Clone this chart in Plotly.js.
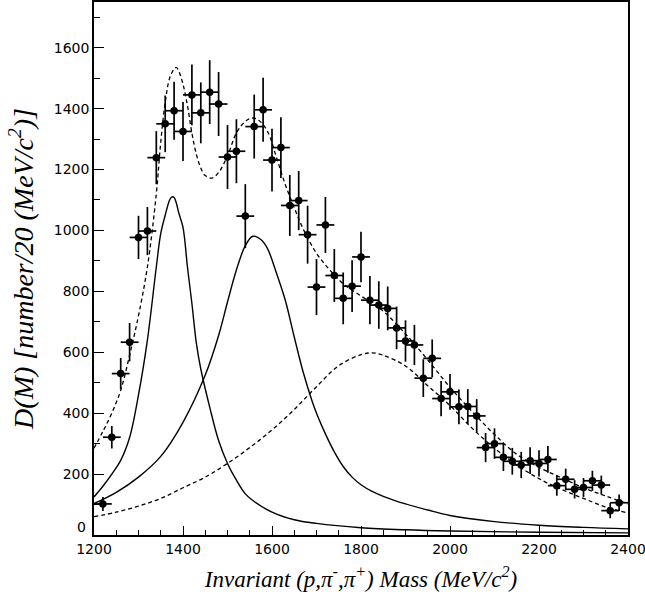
<!DOCTYPE html>
<html>
<head>
<meta charset="utf-8">
<script src="https://cdn.plot.ly/plotly-3.0.1.min.js"></script>
<style>
  html, body { margin: 0; padding: 0; background: #fff; }
  #chart { width: 645px; height: 603px; }
</style>
</head>
<body>
<div id="chart"></div>
<script>
// Measured data: bin centres (MeV/c^2), counts and errors
const mass = [1220,1240,1260,1280,1300,1320,1340,1360,1380,1400,1420,1440,1460,1480,1500,1520,1540,1560,1580,1600,1620,1640,1660,1680,1700,1720,1740,1760,1780,1800,1820,1840,1860,1880,1900,1920,1940,1960,1980,2000,2020,2040,2060,2080,2100,2120,2140,2160,2180,2200,2220,2240,2260,2280,2300,2320,2340,2360,2380];
const counts = [102,321,530,633,977,998,1239,1350,1393,1325,1445,1386,1454,1415,1241,1260,1047,1341,1396,1231,1272,1082,1098,986,814,1018,852,777,817,913,771,755,744,680,637,624,515,580,448,470,421,422,391,287,300,255,242,230,244,235,248,162,183,150,156,178,164,80,106];
const errY = [23,37,51,63,71,79,87,93,95,97,100,100,105,105,105,105,105,105,105,103,100,100,97,95,92,92,87,85,85,83,79,78,72,70,68,66,62,62,58,59,57,57,55,48,50,45,44,43,44,43,44,33,35,30,31,33,31,25,27];
const errX = [20,20,20,20,20,20,20,20,20,20,20,20,20,20,20,20,20,20,20,20,20,20,20,20,20,20,20,20,20,20,20,20,20,20,20,20,20,20,20,20,20,20,20,20,20,20,20,20,20,20,20,20,20,20,20,20,20,20,20];

// Total fit (dashed)
const sumM = [1200,1220,1240,1260,1280,1300,1320,1340,1350,1360,1370,1380,1385,1390,1400,1410,1420,1430,1440,1450,1465,1480,1500,1520,1540,1555,1570,1590,1610,1630,1650,1670,1700,1730,1760,1800,1850,1900,1950,2000,2050,2100,2150,2200,2250,2300,2350,2400];
const sumV = [285,340,400,475,590,720,880,1120,1290,1420,1500,1530,1535,1525,1480,1410,1320,1250,1205,1180,1172,1190,1245,1320,1358,1369,1362,1325,1240,1150,1075,1005,925,870,825,785,735,660,575,485,405,330,265,222,188,155,128,102];

// First resonance (solid)
const p1M = [1200,1220,1240,1260,1280,1300,1320,1340,1350,1360,1370,1375,1380,1385,1390,1400,1410,1420,1430,1440,1460,1480,1500,1520,1540,1560,1600,1650,1700,1800,1900,2000,2200,2400];
const p1V = [125,160,200,245,320,460,640,880,990,1050,1100,1110,1108,1090,1060,1010,880,760,630,545,420,310,235,180,135,110,75,50,38,24,17,13,9,7];

// Second resonance (solid)
const p2M = [1200,1250,1300,1350,1400,1450,1480,1500,1520,1540,1557,1575,1590,1610,1630,1650,1670,1690,1700,1720,1740,1760,1780,1800,1825,1850,1900,1950,2000,2100,2200,2300,2400];
const p2V = [103,140,190,258,370,525,655,765,870,950,981,970,940,860,770,650,535,440,400,332,273,225,190,165,143,127,102,82,64,44,32,25,20];

// Broad component (dashed)
const bM = [1200,1250,1300,1350,1400,1450,1500,1550,1600,1650,1700,1750,1800,1825,1850,1900,1950,2000,2050,2100,2150,2200,2250,2300,2350,2400];
const bV = [60,75,95,120,155,190,235,287,345,412,487,556,592,598,590,555,490,425,350,285,230,185,150,120,92,72];

const xTicks = [1200,1400,1600,1800,2000,2200,2400];
const yTicks = [0,200,400,600,800,1000,1200,1400,1600];
const yTickText = ['','200','400','600','800','1000','1200','1400','1600'];

const traces = [
  {x: bM, y: bV, type: 'scatter', mode: 'lines', line: {color: '#000', width: 1.3, dash: '4px,3px', shape: 'spline'}, hoverinfo: 'skip'},
  {x: p1M, y: p1V, type: 'scatter', mode: 'lines', line: {color: '#000', width: 1.4, shape: 'spline'}, hoverinfo: 'skip'},
  {x: p2M, y: p2V, type: 'scatter', mode: 'lines', line: {color: '#000', width: 1.4, shape: 'spline'}, hoverinfo: 'skip'},
  {x: sumM, y: sumV, type: 'scatter', mode: 'lines', line: {color: '#000', width: 1.3, dash: '4px,3px', shape: 'spline'}, hoverinfo: 'skip'},
  {x: mass, y: counts, type: 'scatter', mode: 'markers',
   marker: {color: '#000', size: 7.5, symbol: 'circle'},
   error_y: {type: 'data', array: errY, visible: true, color: '#000', thickness: 1.7, width: 0},
   error_x: {type: 'data', array: errX, visible: true, color: '#000', thickness: 1.7, width: 0}}
];

const tickFont = {family: 'DejaVu Sans, Verdana, sans-serif', size: 14, color: '#000'};

const layout = {
  width: 645, height: 603,
  margin: {l: 94, r: 17, t: 2, b: 68},
  paper_bgcolor: '#fff', plot_bgcolor: '#fff',
  showlegend: false,
  xaxis: {
    range: [1200, 2400], tickvals: xTicks, ticktext: xTicks.map(String),
    ticklabeloverflow: 'allow',
    ticks: 'inside', ticklen: 9, tickwidth: 1, tickcolor: '#000',
    minor: {dtick: 50, tick0: 1200, ticks: 'inside', ticklen: 5, tickwidth: 1, tickcolor: '#000'},
    showline: true, linewidth: 1.8, linecolor: '#000', mirror: true,
    showgrid: false, zeroline: false, tickfont: tickFont,
    title: {text: '<i>Invariant (p,π<sup>-</sup>,π<sup>+</sup>) Mass (MeV/c<sup>2</sup>)</i>',
            font: {family: 'Liberation Serif, Times New Roman, serif', size: 23, color: '#000'}, standoff: 15}
  },
  yaxis: {
    range: [0, 1750], tickvals: yTicks, ticktext: yTickText,
    ticks: 'inside', ticklen: 10, tickwidth: 1, tickcolor: '#000',
    minor: {dtick: 100, tick0: 0, ticks: 'inside', ticklen: 6, tickwidth: 1, tickcolor: '#000'},
    showline: true, linewidth: 1.8, linecolor: '#000', mirror: true,
    showgrid: false, zeroline: false, tickfont: tickFont,
    title: {text: '<i>D(M) [number/20 (MeV/c<sup>2</sup>)]</i>',
            font: {family: 'Liberation Serif, Times New Roman, serif', size: 28, color: '#000'}, standoff: 12}
  },
  annotations: [
    {text: '0', xref: 'paper', x: 0, xanchor: 'right', xshift: -6,
     yref: 'y', y: 0, yanchor: 'middle', yshift: 8, showarrow: false, font: tickFont}
  ]
};

Plotly.newPlot('chart', traces, layout, {displayModeBar: false, staticPlot: true});
</script>
</body>
</html>
